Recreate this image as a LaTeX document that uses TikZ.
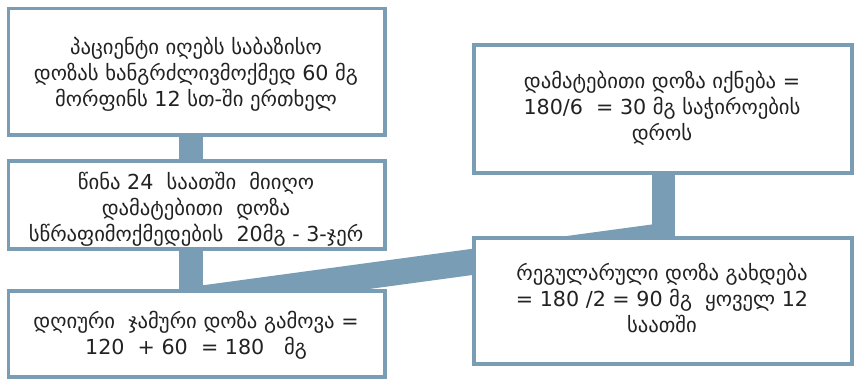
\documentclass[tikz,border=0pt]{standalone}
\usepackage{fontspec}
\setmainfont{DejaVu Sans}
\definecolor{steel}{RGB}{122,157,182}
\definecolor{ink}{RGB}{34,34,34}
\begin{document}
\begin{tikzpicture}[x=0.75pt,y=-0.75pt,
  txt/.style={text=ink,align=center,font=\fontsize{15.5}{19.5}\selectfont,inner sep=0pt},
  boxframe/.style={draw=steel,line width=2.6pt,fill=white},
  link/.style={draw=steel,line width=18pt,line cap=butt}]
\useasboundingbox (0,0) rectangle (855,380);

% connectors (behind the boxes)
\coordinate (j1) at (191,300);
\coordinate (j2) at (663.5,236);
\draw[link] (191,100) -- (j1);
\draw[link,line width=17.5pt] (663.5,120) -- (j2);
\draw[link,line width=19.5pt] (j1) -- (j2);

% boxes
\draw[boxframe] (8.5,8.5) rectangle (385,135);
\draw[boxframe] (8.5,161) rectangle (385,249);
\draw[boxframe] (8.5,291) rectangle (385,377);
\draw[boxframe] (474,45) rectangle (852,173);
\draw[boxframe] (474,238) rectangle (852,364);

% texts
\node[txt] (t1) at (196,74) {პაციენტი იღებს საბაზისო\\დოზას ხანგრძლივმოქმედ 60 მგ\\მორფინს 12 სთ-ში ერთხელ};
\node[txt] (t2) at (196,209) {წინა 24 \ საათში \ მიიღო\\დამატებითი \ დოზა\\სწრაფიმოქმედების \ 20მგ - 3-ჯერ};
\node[txt] (t3) at (196,335) {დღიური \ ჯამური დოზა გამოვა =\\120 \ + 60 \ = 180 \ \ მგ};
\node[txt] (t4) at (662,108) {დამატებითი დოზა იქნება =\\180/6 \ = 30 მგ საჭიროების\\დროს};
\node[txt] (t5) at (662,298) {რეგულარული დოზა გახდება\\= 180 /2 = 90 მგ \ ყოველ 12\\საათში};
\end{tikzpicture}
\end{document}
